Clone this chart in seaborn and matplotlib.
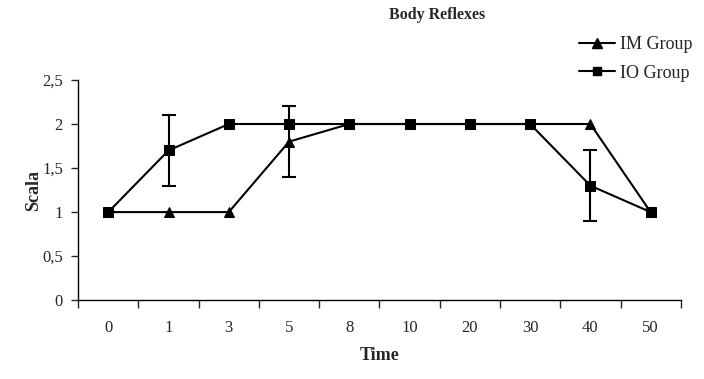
import matplotlib
matplotlib.use("Agg")
import matplotlib.pyplot as plt
from matplotlib.lines import Line2D
import numpy as np
import pandas as pd
import seaborn as sns

# ── Data ────────────────────────────
times = ["0", "1", "3", "5", "8", "10", "20", "30", "40", "50"]
im_group = [1, 1, 1, 1.8, 2, 2, 2, 2, 2, 1]
io_group = [1, 1.7, 2, 2, 2, 2, 2, 2, 1.3, 1]
im_err = [0, 0, 0, 0.4, 0, 0, 0, 0, 0, 0]
io_err = [0, 0.4, 0, 0, 0, 0, 0, 0, 0.4, 0]
y_ticks = [0, 0.5, 1, 1.5, 2, 2.5]
y_labels = ["0", "0,5", "1", "1,5", "2", "2,5"]

sns.set_style("ticks")
plt.rcParams["font.family"] = ["Liberation Serif", "DejaVu Serif"]

pos = np.arange(len(times))
df = pd.concat([
    pd.DataFrame({"pos": pos, "value": im_group, "group": "IM Group"}),
    pd.DataFrame({"pos": pos, "value": io_group, "group": "IO Group"}),
])

fig = plt.figure(figsize=(7.04, 3.79), dpi=100)
ax = fig.add_axes([0.111, 0.208, 0.856, 0.581])

sns.lineplot(
    data=df, x="pos", y="value", style="group",
    markers={"IM Group": "^", "IO Group": "s"}, dashes=False,
    color="black", linewidth=1.5, markersize=7, markeredgecolor="black",
    ax=ax, legend=False,
)

# error bars only where the reference shows them
for vals, errs in [(im_group, im_err), (io_group, io_err)]:
    idx = [i for i, e in enumerate(errs) if e > 0]
    ax.errorbar([pos[i] for i in idx], [vals[i] for i in idx],
                yerr=[errs[i] for i in idx], fmt="none",
                ecolor="black", elinewidth=1.5, capsize=5, capthick=1.5)

ax.set_xlim(-0.5, len(times) - 0.5)
ax.set_ylim(0, 2.5)
ax.set_xticks(pos)
ax.set_xticklabels(times, fontsize=12)
ax.set_xticks(np.arange(-0.5, len(times), 1), minor=True)
ax.tick_params(axis="x", which="major", length=0, pad=14)
ax.tick_params(axis="x", which="minor", length=6, width=1)
ax.set_yticks(y_ticks)
ax.set_yticklabels(y_labels, fontsize=12)
ax.tick_params(axis="y", length=5, width=1, pad=6)
sns.despine(ax=ax)
for s in ["left", "bottom"]:
    ax.spines[s].set_color("black")
    ax.spines[s].set_linewidth(1)

ax.set_xlabel("Time", fontsize=13, fontweight="bold", labelpad=8)
ax.set_ylabel("Scala", fontsize=13, fontweight="bold")
ax.yaxis.set_label_coords(-0.06, 0.5)
fig.text(0.621, 0.96, "Body Reflexes", fontsize=11.5, fontweight="bold",
         ha="center", va="center")

# legend outside at top right
handles = [
    Line2D([], [], color="black", marker="^", markersize=7, linewidth=1.5),
    Line2D([], [], color="black", marker="s", markersize=6, linewidth=1.5),
]
fig.legend(handles, ["IM Group", "IO Group"], loc="upper left",
           bbox_to_anchor=(0.822, 0.905), frameon=False, fontsize=13,
           handlelength=2.0, handletextpad=0.3, labelspacing=0.65,
           borderaxespad=0, borderpad=0)

fig.savefig("out.png", dpi=100)
